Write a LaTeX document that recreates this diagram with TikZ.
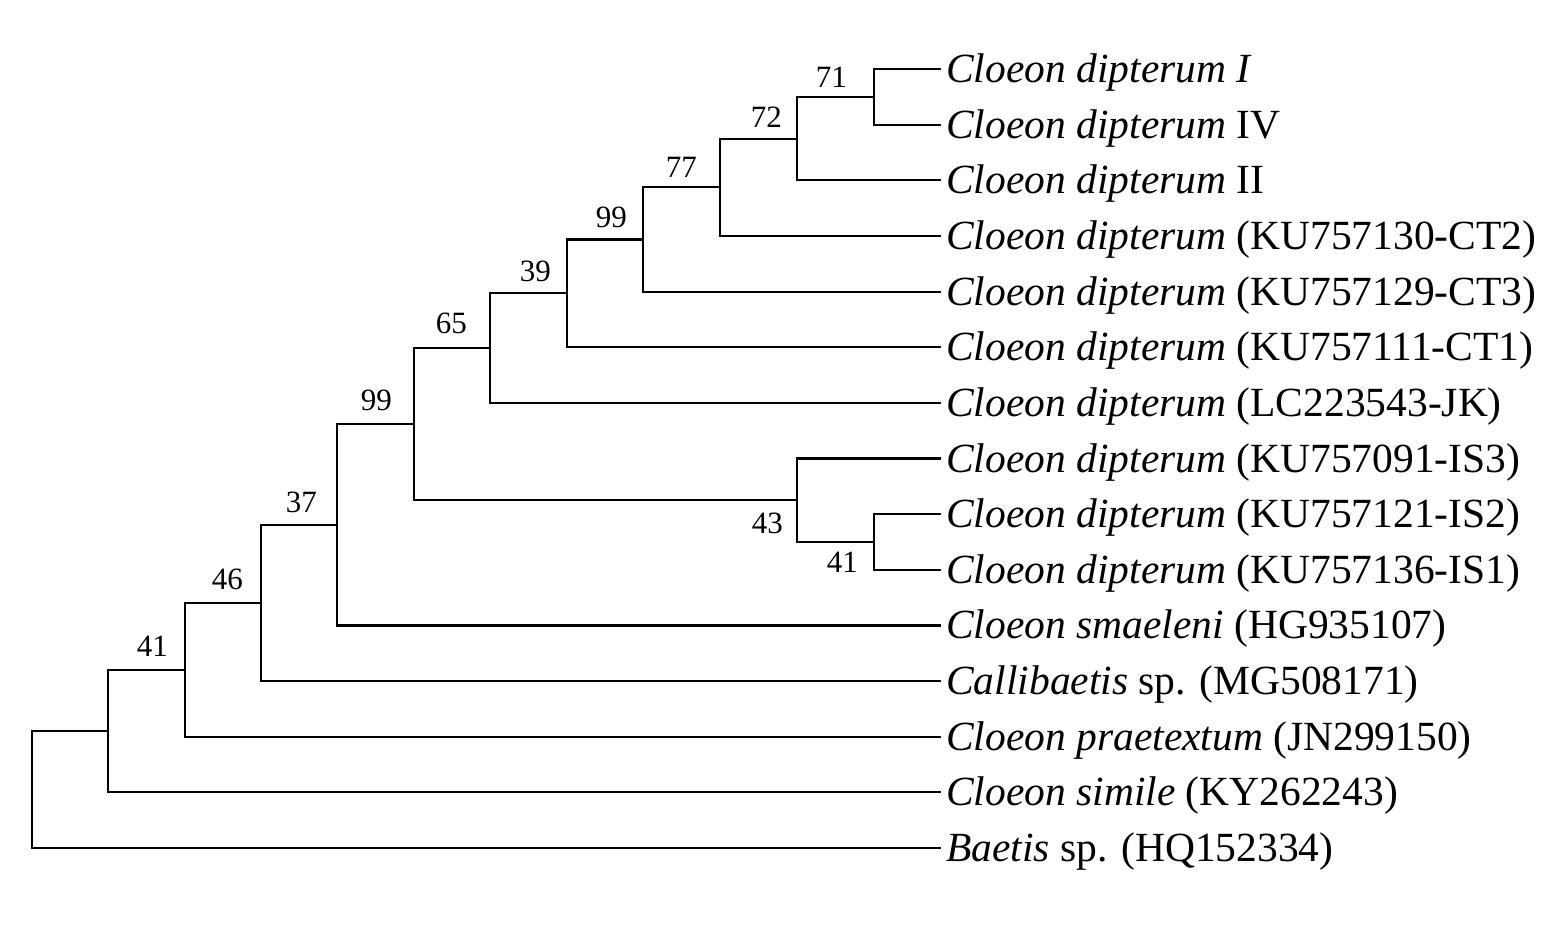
\documentclass[tikz,border=0pt]{standalone}
\usepackage{fontspec}
\setmainfont{Liberation Serif}
\begin{document}
\begin{tikzpicture}[x=1pt,y=-1pt,
  branch/.style={line width=2.2pt,line cap=rect},
  leaftext/.style={anchor=west,inner sep=0pt,xshift=6pt,font=\fontsize{41.5}{41.5}\selectfont,text height=37pt,text depth=10pt},
  boot/.style={anchor=base east,inner sep=0pt,font=\fontsize{31}{31}\selectfont}]
\useasboundingbox (0,0) rectangle (1559,945);
% leaf tips
\foreach \i/\yy in {0/69,1/124.6,2/180.3,3/235.9,4/291.6,5/347.2,6/402.8,7/458.5,8/514.1,9/569.8,10/625.4,11/681,12/736.7,13/792.3,14/848}
  \coordinate (t\i) at (940,\yy);
% internal nodes
\coordinate (a71) at (874,96.8);
\coordinate (a72) at (797,138.6);
\coordinate (a77) at (720,187.2);
\coordinate (a99) at (643,239.4);
\coordinate (a39) at (567,293.3);
\coordinate (a65) at (490,348.1);
\coordinate (b41) at (874,542);
\coordinate (b43) at (797,500.2);
\coordinate (c99) at (414,424.2);
\coordinate (a37) at (337,524.8);
\coordinate (a46) at (261,602.9);
\coordinate (a41) at (185,669.8);
\coordinate (a0) at (108,731);
\coordinate (root) at (32,789.5);
% leaf labels
\node[leaftext] (L0) at (t0) {\textit{Cloeon dipterum I}};
\node[leaftext] (L1) at (t1) {\textit{Cloeon dipterum} IV};
\node[leaftext] (L2) at (t2) {\textit{Cloeon dipterum} II};
\node[leaftext] (L3) at (t3) {\textit{Cloeon dipterum} (KU757130-CT2)};
\node[leaftext] (L4) at (t4) {\textit{Cloeon dipterum} (KU757129-CT3)};
\node[leaftext] (L5) at (t5) {\textit{Cloeon dipterum} (KU757111-CT1)};
\node[leaftext] (L6) at (t6) {\textit{Cloeon dipterum} (LC223543-JK)};
\node[leaftext] (L7) at (t7) {\textit{Cloeon dipterum} (KU757091-IS3)};
\node[leaftext] (L8) at (t8) {\textit{Cloeon dipterum} (KU757121-IS2)};
\node[leaftext] (L9) at (t9) {\textit{Cloeon dipterum} (KU757136-IS1)};
\node[leaftext] (L10) at (t10) {\textit{Cloeon smaeleni} (HG935107)};
\node[leaftext] (L11) at (t11) {\textit{Callibaetis} sp. (MG508171)};
\node[leaftext] (L12) at (t12) {\textit{Cloeon praetextum} (JN299150)};
\node[leaftext] (L13) at (t13) {\textit{Cloeon simile} (KY262243)};
\node[leaftext] (L14) at (t14) {\textit{Baetis} sp. (HQ152334)};
% branches
\draw[branch] (a71) |- (t0);  \draw[branch] (a71) |- (t1);
\draw[branch] (a72) |- (a71); \draw[branch] (a72) |- (t2);
\draw[branch] (a77) |- (a72); \draw[branch] (a77) |- (t3);
\draw[branch] (a99) |- (a77); \draw[branch] (a99) |- (t4);
\draw[branch] (a39) |- (a99); \draw[branch] (a39) |- (t5);
\draw[branch] (a65) |- (a39); \draw[branch] (a65) |- (t6);
\draw[branch] (b41) |- (t8);  \draw[branch] (b41) |- (t9);
\draw[branch] (b43) |- (t7);  \draw[branch] (b43) |- (b41);
\draw[branch] (c99) |- (a65); \draw[branch] (c99) |- (b43);
\draw[branch] (a37) |- (c99); \draw[branch] (a37) |- (t10);
\draw[branch] (a46) |- (a37); \draw[branch] (a46) |- (t11);
\draw[branch] (a41) |- (a46); \draw[branch] (a41) |- (t12);
\draw[branch] (a0) |- (a41);  \draw[branch] (a0) |- (t13);
\draw[branch] (root) |- (a0); \draw[branch] (root) |- (t14);
% bootstrap values
\node[boot] (v71) at (847,87) {71};
\node[boot] (v72) at (782,127) {72};
\node[boot] (v77) at (697,177) {77};
\node[boot] (v99a) at (627,227) {99};
\node[boot] (v39) at (551,281) {39};
\node[boot] (v65) at (467,333) {65};
\node[boot] (v99b) at (392,410) {99};
\node[boot] (v37) at (317,512) {37};
\node[boot] (v46) at (243,589) {46};
\node[boot] (v41a) at (168,656) {41};
\node[boot] (v43) at (783,533) {43};
\node[boot] (v41b) at (858,572) {41};
\end{tikzpicture}
\end{document}
